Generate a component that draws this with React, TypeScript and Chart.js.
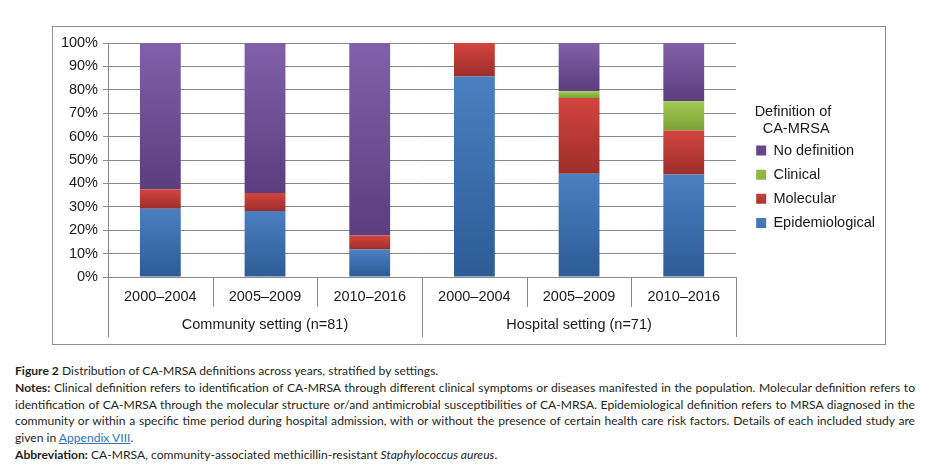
import React, { useEffect, useRef } from "react";
import { Chart, registerables } from "chart.js";

Chart.register(...registerables);

const CATEGORIES = ["2000–2004", "2005–2009", "2010–2016", "2000–2004", "2005–2009", "2010–2016"];
const GROUPS = ["Community setting (n=81)", "Hospital setting (n=71)"];
const GROUP_SIZES = [3, 3];
const Y_TICKS = [0, 10, 20, 30, 40, 50, 60, 70, 80, 90, 100];

const EPIDEMIOLOGICAL = [29.2, 28.2, 11.8, 85.7, 44.1, 43.8];
const MOLECULAR = [8.3, 7.7, 5.9, 14.3, 32.4, 18.8];
const CLINICAL = [0, 0, 0, 0, 2.9, 12.5];
const NO_DEFINITION = [62.5, 64.1, 82.3, 0, 20.6, 24.9];

const SERIES_NAMES = ["Epidemiological", "Molecular", "Clinical", "No definition"];
const SERIES = [EPIDEMIOLOGICAL, MOLECULAR, CLINICAL, NO_DEFINITION];
const COLORS = [
  { top: "#4a7fc1", bottom: "#2d5c96", solid: "#3d6eb0" },
  { top: "#d4443f", bottom: "#9c2e2b", solid: "#c0393a" },
  { top: "#a3ca50", bottom: "#79a236", solid: "#8fb843" },
  { top: "#8160a9", bottom: "#5b3e7e", solid: "#6e4f96" },
];

const FONT = '"Liberation Sans", Arial, sans-serif';
const TEXT = "#1a1a1a";
const GRID = "#8a8a8a";

function makeBg(dsIndex: number) {
  const c = COLORS[dsIndex];
  return (ctx: any) => {
    if (ctx.type !== "data") return c.solid;
    const chart = ctx.chart;
    const y = chart.scales && chart.scales.y;
    if (!y || !chart.chartArea) return c.solid;
    const i = ctx.dataIndex;
    let start = 0;
    for (let d = 0; d < dsIndex; d++) start += SERIES[d][i];
    const end = start + SERIES[dsIndex][i];
    const p0 = y.getPixelForValue(Math.min(end, 100));
    const p1 = y.getPixelForValue(start);
    if (!isFinite(p0) || !isFinite(p1) || Math.abs(p1 - p0) < 0.5) return c.solid;
    const g = chart.ctx.createLinearGradient(0, p0, 0, p1);
    g.addColorStop(0, c.top);
    g.addColorStop(1, c.bottom);
    return g;
  };
}

const separators = {
  id: "separators",
  afterDraw(chart: any) {
    const xs = chart.scales.x;
    const x2 = chart.scales.x2;
    if (!xs || !x2) return;
    const n = CATEGORIES.length;
    const groupBounds = new Set<number>([0]);
    let acc = 0;
    GROUP_SIZES.forEach((s) => {
      acc += s;
      groupBounds.add(acc);
    });
    const ctx = chart.ctx;
    ctx.save();
    ctx.strokeStyle = GRID;
    ctx.lineWidth = 1;
    for (let i = 0; i <= n; i++) {
      let px: number;
      if (i === 0) px = xs.left;
      else if (i === n) px = xs.right;
      else px = (xs.getPixelForValue(i - 1) + xs.getPixelForValue(i)) / 2;
      px = Math.round(px) + 0.5;
      const bottom = groupBounds.has(i) ? x2.bottom : xs.bottom;
      ctx.beginPath();
      ctx.moveTo(px, xs.top);
      ctx.lineTo(px, bottom);
      ctx.stroke();
    }
    ctx.restore();
  },
};

export default function App() {
  const ref = useRef<HTMLCanvasElement>(null);

  useEffect(() => {
    if (!ref.current) return;
    const chart = new Chart(ref.current, {
      type: "bar",
      data: {
        labels: CATEGORIES,
        datasets: SERIES.map((values, i) => ({
          label: SERIES_NAMES[i],
          data: values,
          backgroundColor: makeBg(i),
          borderWidth: 0,
          categoryPercentage: 1,
          barPercentage: 0.39,
          xAxisID: "x",
          yAxisID: "y",
        })),
      },
      options: {
        responsive: true,
        maintainAspectRatio: false,
        animation: false,
        layout: { padding: { top: 16, bottom: 7, left: 0, right: 0 } },
        plugins: {
          tooltip: { enabled: false },
          legend: {
            position: "right",
            align: "start",
            reverse: true,
            title: {
              display: true,
              text: ["  Definition of", "    CA-MRSA"],
              position: "start",
              color: TEXT,
              font: { family: FONT, size: 14.5 },
              padding: { top: 61.25, bottom: 12.1 } as any,
            },
            labels: {
              boxWidth: 10,
              boxHeight: 10,
              padding: 9.6,
              color: TEXT,
              font: { family: FONT, size: 14.5 },
            },
          },
        },
        scales: {
          x: {
            type: "category",
            stacked: true,
            position: "bottom",
            weight: 1,
            grid: { display: true, drawOnChartArea: false, drawTicks: false },
            border: { display: true, color: GRID, width: 1 },
            ticks: { color: TEXT, font: { family: FONT, size: 14.5 }, padding: 11.3, maxRotation: 0, autoSkip: false },
            afterFit: (s: any) => {
              s.height = 30;
            },
          },
          x2: {
            type: "category",
            labels: GROUPS,
            position: "bottom",
            weight: 2,
            offset: true,
            grid: { display: false, drawTicks: false },
            border: { display: false },
            ticks: { color: TEXT, font: { family: FONT, size: 14.5 }, padding: 9.3, maxRotation: 0, autoSkip: false },
            afterFit: (s: any) => {
              s.height = 30;
            },
          },
          y: {
            type: "linear",
            stacked: true,
            min: 0,
            max: 100,
            position: "left",
            grid: { color: GRID, lineWidth: 1, tickLength: 5, drawTicks: true },
            border: { display: true, color: GRID, width: 1 },
            afterBuildTicks: (s: any) => {
              s.ticks = Y_TICKS.map((v) => ({ value: v }));
            },
            ticks: {
              color: TEXT,
              font: { family: FONT, size: 14.5 },
              padding: 5,
              callback: (v: any) => v + "%",
            },
            afterFit: (s: any) => {
              s.width = 55;
            },
          },
          gap: {
            type: "linear",
            position: "right",
            display: true,
            grid: { display: false, drawTicks: false },
            border: { display: false },
            ticks: { display: false },
            afterFit: (s: any) => {
              s.width = 10.5;
            },
          },
        },
      } as any,
      plugins: [separators],
    });
    return () => chart.destroy();
  }, []);

  const cap: React.CSSProperties = {
    fontFamily: "Lato, 'Open Sans', sans-serif",
    fontSize: "12.1px",
    lineHeight: "16.7px",
    color: "#231f20",
  };
  const just: React.CSSProperties = { textAlign: "justify", textAlignLast: "justify" as any };

  return (
    <div style={{ height: 453, width: 909, overflow: "hidden" }}>
      <div style={{ padding: "18px 0 0 44px" }}>
        <div style={{ border: "1px solid #8e8e8e", width: 832, height: 317 }}>
          <div style={{ position: "relative", width: 832, height: 317 }}>
            <canvas ref={ref} />
          </div>
        </div>
      </div>
      <div style={{ ...cap, marginTop: "18.3px", marginLeft: 7, width: 900 }}>
        <div>
          <b>Figure 2</b> Distribution of CA-MRSA definitions across years, stratified by settings.
        </div>
        <div style={just}>
          <b>Notes:</b> Clinical definition refers to identification of CA-MRSA through different clinical symptoms or diseases manifested in the population. Molecular definition refers to
        </div>
        <div style={just}>
          identification of CA-MRSA through the molecular structure or/and antimicrobial susceptibilities of CA-MRSA. Epidemiological definition refers to MRSA diagnosed in the
        </div>
        <div style={just}>
          community or within a specific time period during hospital admission, with or without the presence of certain health care risk factors. Details of each included study are
        </div>
        <div>
          given in <span style={{ color: "#2f72b8", textDecoration: "underline" }}>Appendix VIII</span>.
        </div>
        <div>
          <b>Abbreviation:</b> CA-MRSA, community-associated methicillin-resistant <i>Staphylococcus aureus</i>.
        </div>
      </div>
    </div>
  );
}
